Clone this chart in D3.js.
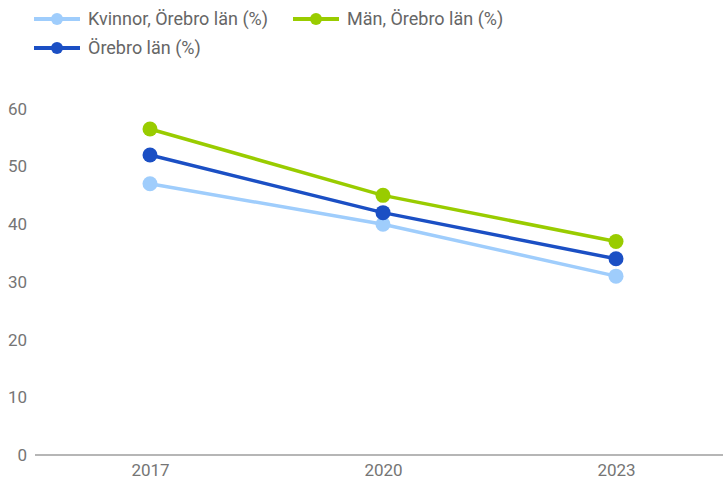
<!DOCTYPE html>
<html>
<head>
<meta charset="utf-8">
<script src="https://cdn.jsdelivr.net/npm/d3@7"></script>
<style>
  body { margin: 0; background: #fff; }
  svg { display: block; font-family: Roboto, sans-serif; }
</style>
</head>
<body>
<svg id="chart" width="723" height="480"></svg>
<script>
// data
const years = ["2017", "2020", "2023"];
const kvinnor = [47, 40, 31];
const man = [56.5, 45, 37];
const orebro = [52, 42, 34];
const yTicks = [0, 10, 20, 30, 40, 50, 60];

const series = [
    { name: "Kvinnor, Örebro län (%)", values: kvinnor, color: "#9fcdfc" },
    { name: "Män, Örebro län (%)", values: man, color: "#99cc00" },
    { name: "Örebro län (%)", values: orebro, color: "#1b4fc4" }
];

const svg = d3.select("#chart");

// scales
const x = d3.scalePoint()
    .domain(years)
    .range([33.5, 732.5])
    .padding(0.5);

const y = d3.scaleLinear()
    .domain([0, 60])
    .range([455, 108.8]);

// y labels
svg.append("g")
    .attr("transform", "translate(27, 0)")
    .call(d3.axisLeft(y).tickValues(yTicks).tickSize(0).tickPadding(0))
    .call(g => g.select(".domain").remove())
    .call(g => g.selectAll("text")
        .attr("fill", "#757575")
        .attr("font-size", "17px")
        .attr("font-family", "Roboto, sans-serif"));

// x axis
svg.append("g")
    .attr("transform", `translate(0, ${y(0)})`)
    .call(d3.axisBottom(x).tickSize(0).tickPadding(0).tickSizeOuter(0))
    .call(g => g.select(".domain").attr("stroke", "#9e9e9e").attr("stroke-width", 1.5)
        .attr("d", `M35,0H723`))
    .call(g => g.selectAll("text")
        .attr("dy", null)
        .attr("y", 21)
        .attr("fill", "#757575")
        .attr("font-size", "17px")
        .attr("font-family", "Roboto, sans-serif"));

// lines + dots
const line = d3.line()
    .x((d, i) => x(years[i]))
    .y(d => y(d));

const plot = svg.append("g");
for (const s of series) {
    plot.append("path")
        .datum(s.values)
        .attr("fill", "none")
        .attr("stroke", s.color)
        .attr("stroke-width", 3.5)
        .attr("d", line);
}
for (const s of series) {
    plot.selectAll(null)
        .data(s.values)
        .join("circle")
        .attr("cx", (d, i) => x(years[i]))
        .attr("cy", d => y(d))
        .attr("r", 7.5)
        .attr("fill", s.color);
}

// legend
const legendPos = [[34, 19], [293, 19], [34, 48]];
series.forEach((s, i) => {
    const [lx, ly] = legendPos[i];
    const g = svg.append("g").attr("transform", `translate(${lx}, ${ly})`);
    g.append("line")
        .attr("x1", 0).attr("x2", 46)
        .attr("stroke", s.color)
        .attr("stroke-width", 4);
    g.append("circle")
        .attr("cx", 23).attr("r", 6)
        .attr("fill", s.color);
    g.append("text")
        .attr("x", 54)
        .attr("dy", "0.35em")
        .attr("fill", "#666")
        .attr("font-size", "18px")
        .text(s.name);
});
</script>
</body>
</html>
